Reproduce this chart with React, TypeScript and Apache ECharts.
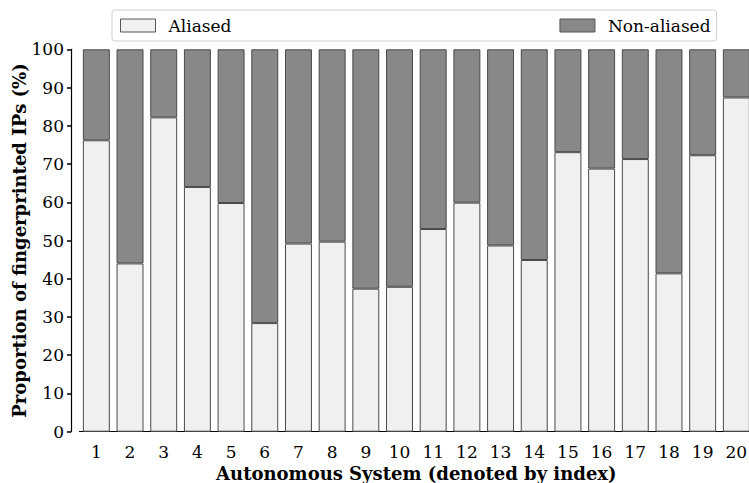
import React, { useEffect, useRef } from "react";
import * as echarts from "echarts";

const categories = ["1","2","3","4","5","6","7","8","9","10","11","12","13","14","15","16","17","18","19","20"];
const aliased = [76.2, 44.0, 82.2, 64.0, 59.8, 28.4, 49.2, 49.7, 37.4, 37.9, 53.0, 59.9, 48.7, 44.9, 73.1, 68.8, 71.3, 41.4, 72.3, 87.4];
const nonAliased = [23.8, 56.0, 17.8, 36.0, 40.2, 71.6, 50.8, 50.3, 62.6, 62.1, 47.0, 40.1, 51.3, 55.1, 26.9, 31.2, 28.7, 58.6, 27.7, 12.6];

const FONT = "DejaVu Serif";

export default function App() {
  const ref = useRef<HTMLDivElement>(null);
  useEffect(() => {
    if (!ref.current) return;
    const chart = echarts.init(ref.current, undefined, { renderer: "svg", width: 749, height: 483 });
    chart.setOption({
      animation: false,
      textStyle: { fontFamily: FONT },
      legend: {
        left: 112,
        top: 10,
        padding: [7, 6, 7, 8],
        icon: "rect",
        itemWidth: 35,
        itemHeight: 13,
        itemGap: 328,
        borderColor: "#d0d0d0",
        borderWidth: 1,
        borderRadius: 3,
        backgroundColor: "#fff",
        textStyle: { fontFamily: FONT, fontSize: 17, color: "#000", padding: [0, 0, 0, 8] },
        data: [
          { name: "Aliased", itemStyle: { color: "#f0f0f0", borderColor: "#555", borderWidth: 1 } },
          { name: "Non-aliased", itemStyle: { color: "#888888", borderColor: "#555", borderWidth: 1 } },
        ],
      },
      grid: {
        left: 79.5,
        right: -4.2,
        top: 49.3,
        bottom: 51.3,
        containLabel: false,
        outerBoundsMode: "none",
      },
      xAxis: {
        type: "category",
        data: categories,
        offset: 8,
        axisLine: { lineStyle: { color: "#000", width: 1.2 } },
        axisTick: { alignWithLabel: true, length: 3, lineStyle: { color: "#000", width: 1.5 } },
        axisLabel: { fontFamily: FONT, fontSize: 17, color: "#000", margin: 4 },
        name: "Autonomous System (denoted by index)",
        nameLocation: "middle",
        nameGap: 25,
        nameMoveOverlap: false,
        nameTextStyle: { fontFamily: FONT, fontSize: 18, fontWeight: "bold", color: "#000" },
      },
      yAxis: {
        type: "value",
        min: 0,
        max: 100,
        interval: 10,
        offset: 8.5,
        splitLine: { show: false },
        axisLine: { show: true, lineStyle: { color: "#000", width: 1.2 } },
        axisTick: { show: true, length: 4, lineStyle: { color: "#000", width: 1.5 } },
        axisLabel: { fontFamily: FONT, fontSize: 17, color: "#000", margin: 7 },
        name: "Proportion of fingerprinted IPs (%)",
        nameLocation: "middle",
        nameGap: 43,
        nameMoveOverlap: false,
        nameTextStyle: { fontFamily: FONT, fontSize: 18, fontWeight: "bold", color: "#000" },
      },
      series: [
        {
          name: "Aliased",
          type: "bar",
          stack: "total",
          data: aliased,
          barCategoryGap: "20%",
          itemStyle: { color: "#f0f0f0", borderColor: "#4a4a4a", borderWidth: 1 },
        },
        {
          name: "Non-aliased",
          type: "bar",
          stack: "total",
          data: nonAliased,
          barCategoryGap: "20%",
          itemStyle: { color: "#888888", borderColor: "#4a4a4a", borderWidth: 1 },
        },
      ],
    });
    return () => chart.dispose();
  }, []);
  return (
    <div
      ref={ref}
      style={{ position: "fixed", left: 0, top: 0, width: 749, height: 483, background: "#fff" }}
    />
  );
}
